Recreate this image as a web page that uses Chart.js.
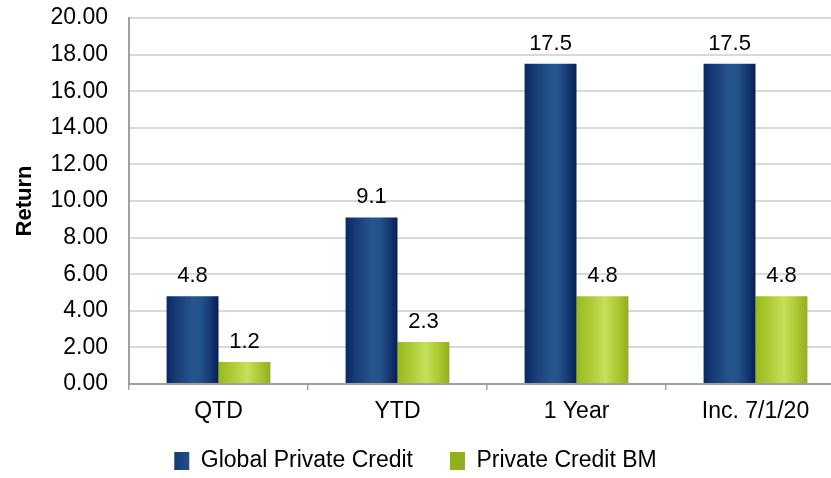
<!DOCTYPE html>
<html>
<head>
<meta charset="utf-8">
<script src="https://cdn.jsdelivr.net/npm/chart.js@4"></script>
<style>
  html, body { margin: 0; padding: 0; background: #fff; overflow: hidden; }
  #wrap { width: 831px; height: 478px; overflow: hidden; position: relative; }
  #wrap canvas { position: absolute; left: 0; top: 0; }
</style>
</head>
<body>
<div id="wrap"><canvas id="chart" width="860" height="478" style="width:860px;height:478px"></canvas></div>
<script>
// Periods and returns (%)
const categories = ['QTD', 'YTD', '1 Year', 'Inc. 7/1/20'];
const globalPrivateCredit = [4.8, 9.1, 17.5, 17.5];
const privateCreditBM = [1.2, 2.3, 4.8, 4.8];

// Value axis range
const yMin = 0;
const yMax = 20;
const yStep = 2;

const VISIBLE_WIDTH = 831;
const LEGEND_CENTRE_Y = 461;
const FONT = "'Liberation Sans', Arial, Helvetica, sans-serif";

Chart.defaults.font.family = FONT;
Chart.defaults.color = '#000';

// Horizontal "cylinder" shading for each bar
const blueStops = [[0, '#0a2862'], [0.2, '#183d77'], [0.5, '#25548e'], [0.65, '#24538c'], [0.85, '#143771'], [1, '#061e58']];
const greenStops = [[0, '#98ba1e'], [0.25, '#acca33'], [0.55, '#c6e05b'], [0.75, '#b0cd36'], [1, '#93b01c']];

function barFill(stops, fallback) {
  return (ctx) => {
    const el = ctx.element;
    if (!el || !Number.isFinite(el.x) || !el.width) return fallback;
    const g = ctx.chart.ctx.createLinearGradient(el.x - el.width / 2, 0, el.x + el.width / 2, 0);
    stops.forEach(([o, c]) => g.addColorStop(o, c));
    return g;
  };
}

// Value printed above each bar
const valueLabels = {
  id: 'valueLabels',
  afterDatasetsDraw(chart) {
    const { ctx } = chart;
    ctx.save();
    ctx.font = '22px ' + FONT;
    ctx.fillStyle = '#000';
    ctx.textAlign = 'center';
    ctx.textBaseline = 'alphabetic';
    chart.data.datasets.forEach((ds, d) => {
      chart.getDatasetMeta(d).data.forEach((bar, i) => {
        ctx.fillText(ds.data[i].toFixed(1), bar.x, bar.y - 14);
      });
    });
    ctx.restore();
  }
};

// Centre the legend on the visible part of the canvas and set its row position
const legendPlace = {
  id: 'legendPlace',
  afterLayout(chart) {
    const lg = chart.legend;
    if (!lg) return;
    const opts = lg.options.labels;
    const dx = VISIBLE_WIDTH / 2 - (lg.left + lg.right) / 2;
    lg.left += dx;
    lg.right += dx;
    const itemCentre = lg.top + opts.padding + opts.font.size / 2;
    lg.top += LEGEND_CENTRE_Y - itemCentre;
  }
};

const chart = new Chart(document.getElementById('chart'), {
  type: 'bar',
  data: {
    labels: categories,
    datasets: [
      {
        label: 'Global Private Credit',
        data: globalPrivateCredit,
        backgroundColor: barFill(blueStops, '#1d4580'),
        borderWidth: 0
      },
      {
        label: 'Private Credit BM',
        data: privateCreditBM,
        backgroundColor: barFill(greenStops, '#b3d23c'),
        borderWidth: 0
      }
    ]
  },
  options: {
    responsive: false,
    animation: false,
    categoryPercentage: 0.58,
    barPercentage: 1.0,
    layout: { padding: { top: 18, right: 15, left: 0, bottom: 0 } },
    plugins: {
      legend: {
        position: 'bottom',
        maxHeight: 52,
        labels: {
          boxWidth: 15,
          boxHeight: 18,
          padding: 37,
          color: '#000',
          font: { size: 23 }
        }
      },
      tooltip: { enabled: false }
    },
    scales: {
      x: {
        grid: { offset: true, drawOnChartArea: false, drawTicks: true, tickLength: 6, color: '#a0a0a0', lineWidth: 1.5 },
        border: { display: true, color: '#a0a0a0', width: 2 },
        ticks: { color: '#000', font: { size: 23 }, padding: 8, maxRotation: 0, autoSkip: false },
        afterFit(scale) { scale.height = 42; }
      },
      y: {
        min: yMin,
        max: yMax,
        ticks: {
          stepSize: yStep,
          color: '#000',
          font: { size: 23 },
          padding: 21,
          callback: (v) => Number(v).toFixed(2)
        },
        grid: { color: '#d9d9d9', lineWidth: 2, drawTicks: false },
        border: { display: true, color: '#a0a0a0', width: 2 },
        title: {
          display: true,
          text: 'Return',
          color: '#000',
          font: { size: 22, weight: 'bold' },
          padding: { top: 12, bottom: 0 }
        },
        afterFit(scale) {
          scale.width = 129;
          scale.paddingTop = 0;
          scale.paddingBottom = 0;
        }
      }
    }
  },
  plugins: [valueLabels, legendPlace]
});

// second pass so the bar shading can use the laid-out bar geometry
chart.update();
</script>
</body>
</html>
